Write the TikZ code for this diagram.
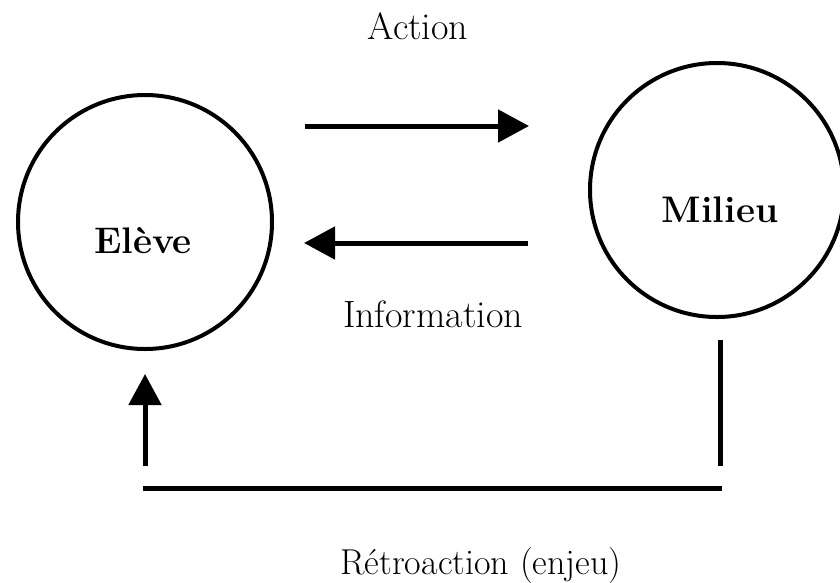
\documentclass[tikz,border=0pt]{standalone}
\usepackage{fontspec}
\usetikzlibrary{arrows.meta}
\begin{document}
\begin{tikzpicture}[x=1pt,y=-1pt,
  agent/.style={circle,draw,line width=4pt,minimum size=254pt,inner sep=0pt},
  agentname/.style={font=\fontsize{37}{44}\selectfont\bfseries,inner sep=0pt,anchor=base},
  caption/.style={font=\fontsize{38}{46}\selectfont,inner sep=0pt,anchor=base},
  flow/.style={line width=5pt,-{Triangle[length=31pt,width=32pt]}},
  bar/.style={line width=5pt}]
\useasboundingbox (0,0) rectangle (840,582);
\fill[white] (0,0) rectangle (840,582);
% the two agents
\node[agent] (eleve) at (145,222) {};
\node[agent] (milieu) at (717,190) {};
\node[agentname] (eleveName) at (143,253) {Elève};
\node[agentname] (milieuName) at (720,222) {Milieu};
% action / information exchange
\coordinate (actA) at (305,126);
\coordinate (actB) at (529,126);
\coordinate (infA) at (528,243);
\coordinate (infB) at (304,243);
\draw[flow] (actA) -- (actB);
\draw[flow] (infA) -- (infB);
\node[caption] (action) at (418,39) {Action};
\node[caption] (information) at (433,327) {Information};
% feedback loop
\coordinate (fbTop) at (720,340);
\coordinate (fbDown) at (720,466);
\coordinate (fbRight) at (722,488);
\coordinate (fbLeft) at (143,488);
\coordinate (fbUp) at (145,466);
\coordinate (fbTip) at (145,374);
\draw[bar] (fbTop) -- (fbDown);
\draw[bar] (fbRight) -- (fbLeft);
\draw[flow] (fbUp) -- (fbTip);
\node[caption,font=\fontsize{36}{44}\selectfont] (retro) at (481,574) {Rétroaction (enjeu)};
\end{tikzpicture}
\end{document}
